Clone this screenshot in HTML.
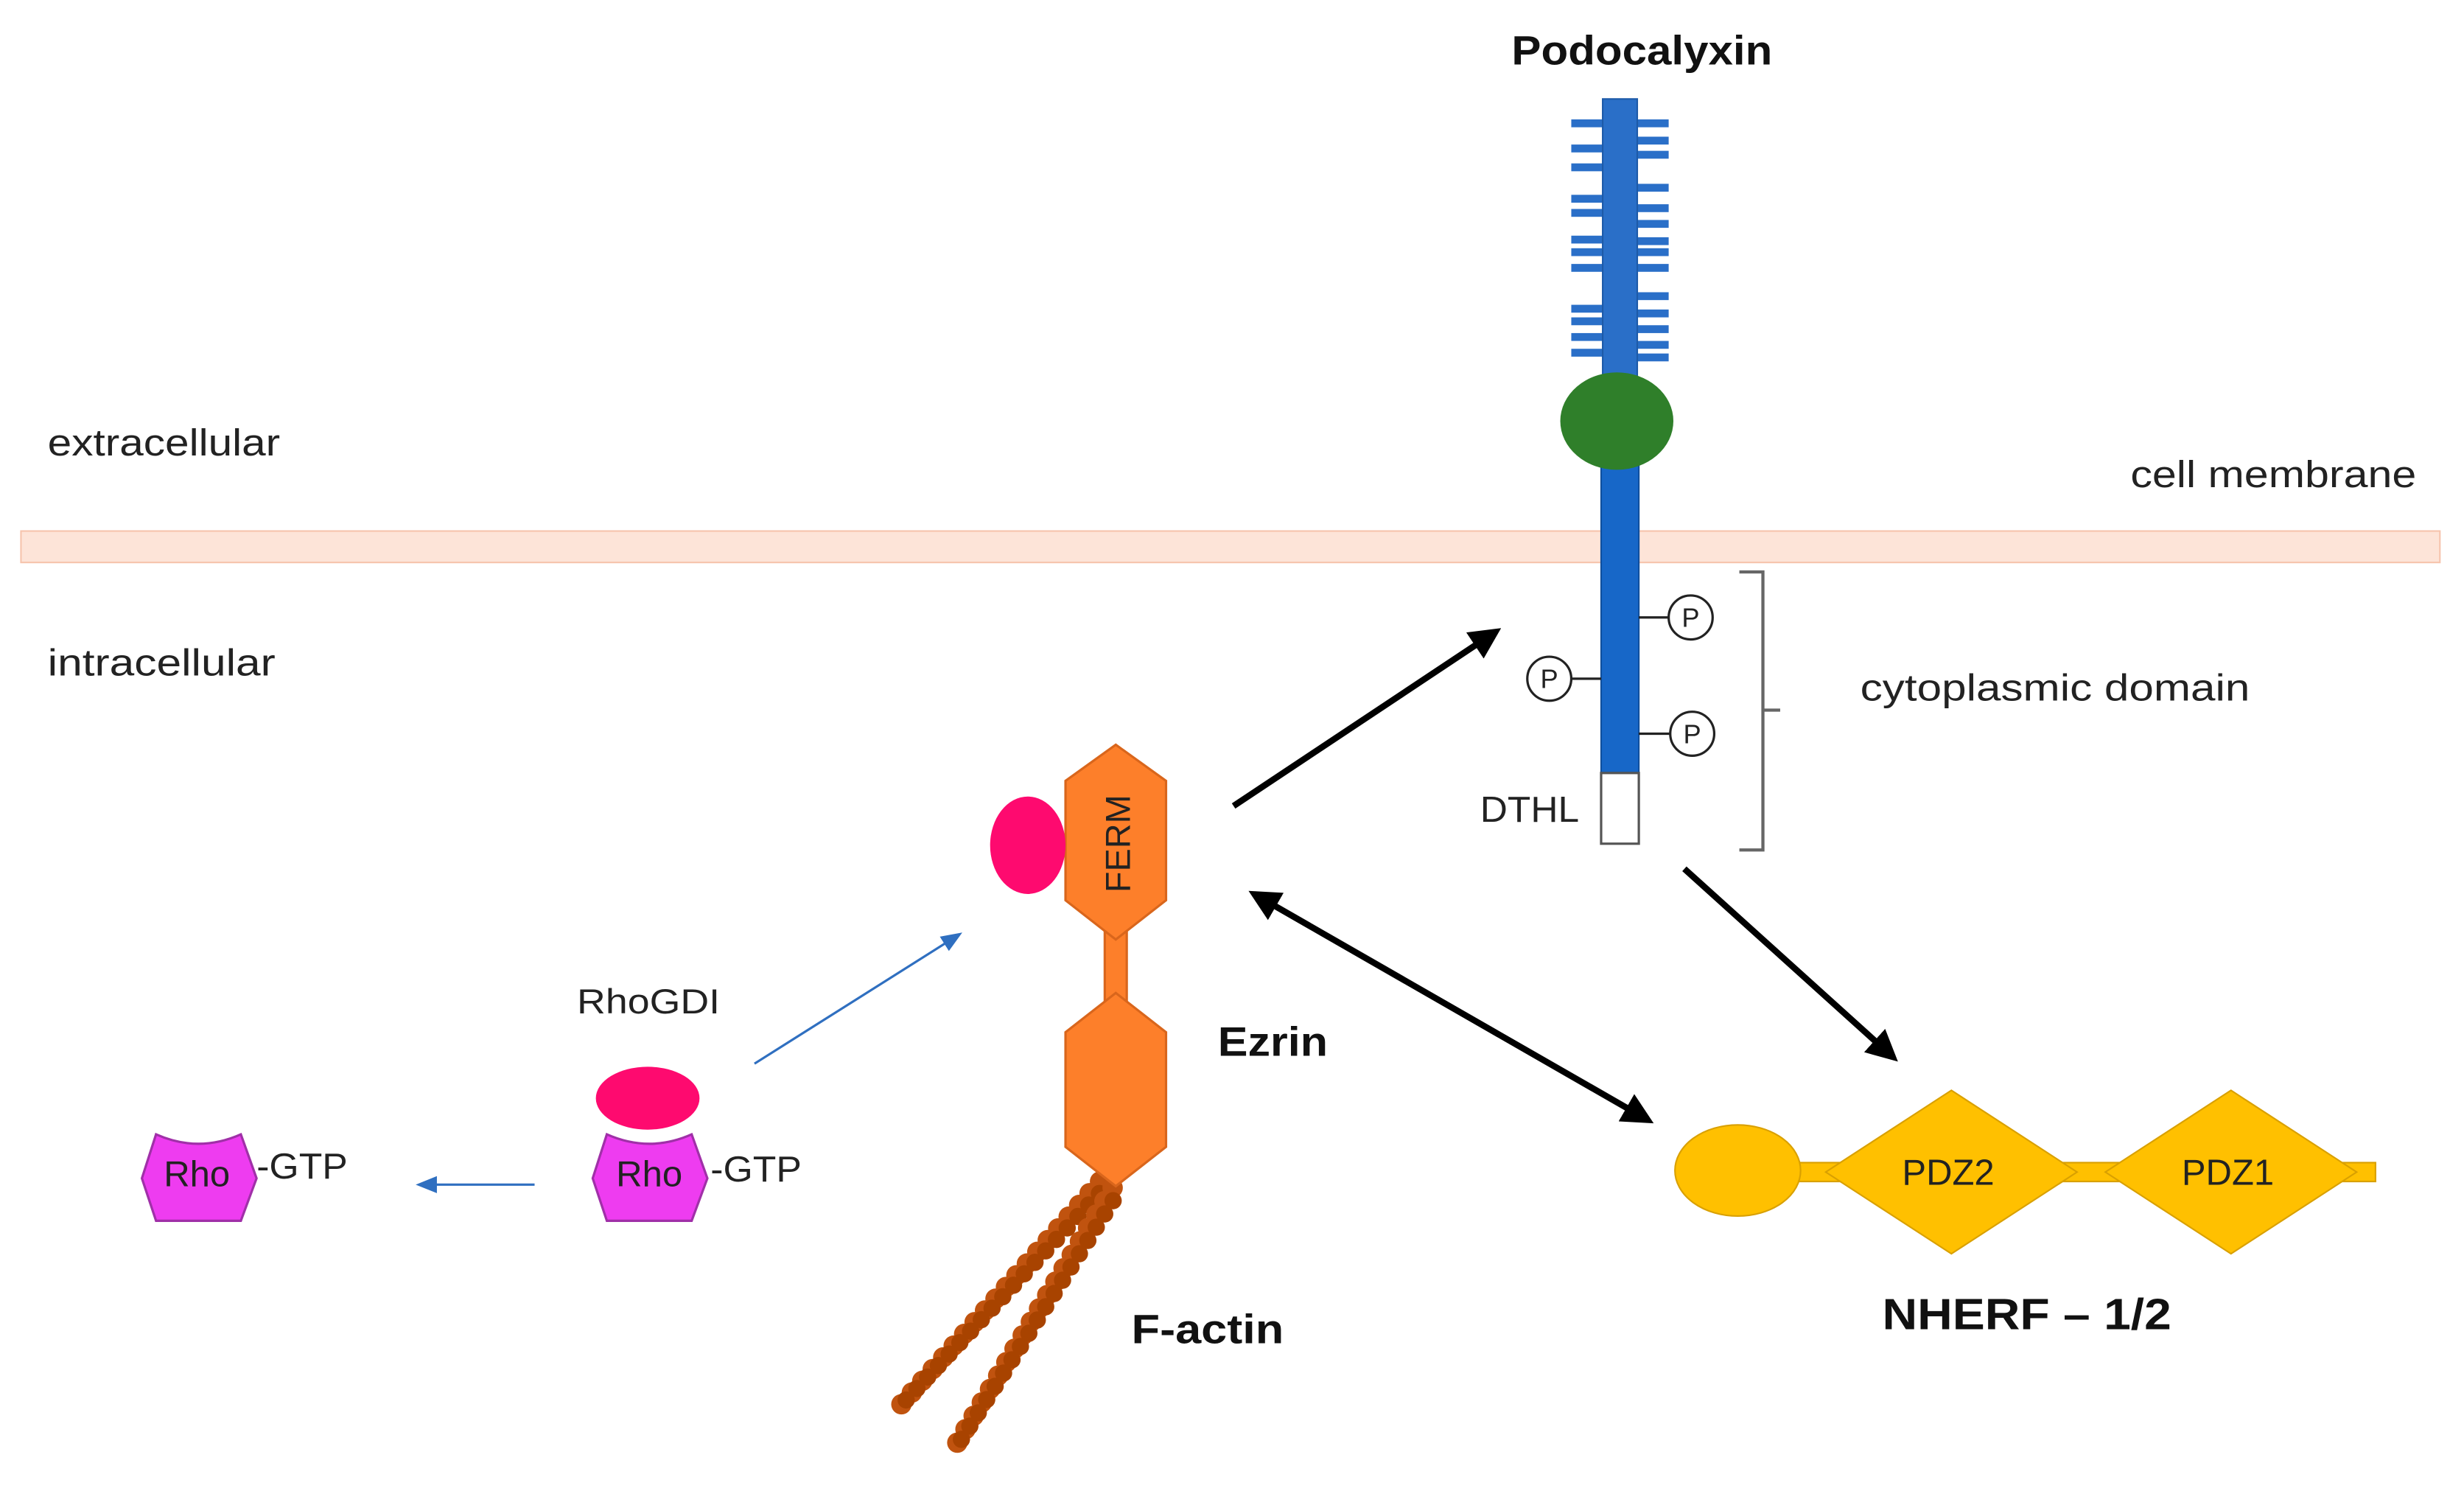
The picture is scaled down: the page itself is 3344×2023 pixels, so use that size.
<!DOCTYPE html>
<html><head><meta charset="utf-8"><style>
html,body{margin:0;padding:0;background:#fff;}
svg{display:block;}
text{font-family:"Liberation Sans",sans-serif;}
</style></head><body>
<svg width="3344" height="2023" viewBox="0 0 1568 949" xmlns="http://www.w3.org/2000/svg">
<defs>
<marker id="ab" viewBox="0 0 10 10" refX="8" refY="5" markerWidth="5" markerHeight="5" orient="auto-start-reverse"><path d="M0,0 L10,5 L0,10 z" fill="#000"/></marker>
<marker id="bb" viewBox="0 0 10 10" refX="8" refY="5" markerWidth="9" markerHeight="9" orient="auto"><path d="M0,1 L10,5 L0,9 z" fill="#2f6fc0"/></marker>
</defs>
<rect width="1568" height="949" fill="#fff"/>
<rect x="13" y="338" width="1540" height="20" fill="#fde4d8" stroke="#f6c4ad" stroke-width="1"/>
<text x="30" y="290" font-size="24" fill="#222" textLength="148" lengthAdjust="spacingAndGlyphs">extracellular</text>
<text x="30" y="430" font-size="24" fill="#222" textLength="145" lengthAdjust="spacingAndGlyphs">intracellular</text>
<text x="1356" y="310" font-size="24" fill="#222" textLength="182" lengthAdjust="spacingAndGlyphs">cell membrane</text>
<text x="1184" y="446" font-size="24" fill="#222" textLength="248" lengthAdjust="spacingAndGlyphs">cytoplasmic domain</text>
<text x="962" y="41" font-size="26" font-weight="bold" fill="#111" textLength="166" lengthAdjust="spacingAndGlyphs">Podocalyxin</text>
<g fill="#2a6fc8">
<rect x="1000" y="76" width="20" height="5"/><rect x="1000" y="92" width="20" height="5"/><rect x="1000" y="104" width="20" height="5"/>
<rect x="1000" y="124" width="20" height="5"/><rect x="1000" y="133" width="20" height="5"/><rect x="1000" y="150" width="20" height="5"/><rect x="1000" y="158" width="20" height="5"/><rect x="1000" y="168" width="20" height="5"/>
<rect x="1000" y="194" width="20" height="5"/><rect x="1000" y="202" width="20" height="5"/><rect x="1000" y="212" width="20" height="5"/><rect x="1000" y="222" width="20" height="5"/>
<rect x="1042" y="76" width="20" height="5"/><rect x="1042" y="87" width="20" height="5"/><rect x="1042" y="96" width="20" height="5"/>
<rect x="1042" y="117" width="20" height="5"/><rect x="1042" y="130" width="20" height="5"/><rect x="1042" y="140" width="20" height="5"/><rect x="1042" y="151" width="20" height="5"/><rect x="1042" y="158" width="20" height="5"/><rect x="1042" y="168" width="20" height="5"/>
<rect x="1042" y="186" width="20" height="5"/><rect x="1042" y="197" width="20" height="5"/><rect x="1042" y="207" width="20" height="5"/><rect x="1042" y="217" width="20" height="5"/><rect x="1042" y="225" width="20" height="5"/>
</g>
<rect x="1020" y="63" width="22" height="210" fill="#2a6fc8" stroke="#1d5aa8" stroke-width="1"/>
<rect x="1019" y="268" width="24" height="226" fill="#1767c8" stroke="#0f4f9e" stroke-width="1"/>
<ellipse cx="1029" cy="268" rx="36" ry="31" fill="#2f7f2a"/>
<rect x="1019" y="492" width="24" height="45" fill="#fff" stroke="#555" stroke-width="1.5"/>
<text x="942" y="523" font-size="23" fill="#222" textLength="63" lengthAdjust="spacingAndGlyphs">DTHL</text>
<g stroke="#222" stroke-width="1.5" fill="#fff">
<line x1="1043" y1="393" x2="1062" y2="393"/><ellipse cx="1076" cy="393" rx="14" ry="14"/>
<line x1="1000" y1="432" x2="1019" y2="432"/><ellipse cx="986" cy="432" rx="14" ry="14"/>
<line x1="1043" y1="467" x2="1063" y2="467"/><ellipse cx="1077" cy="467" rx="14" ry="14"/>
</g>
<g font-size="17" text-anchor="middle" fill="#222"><text x="1076" y="399">P</text><text x="986" y="438">P</text><text x="1077" y="473">P</text></g>
<path d="M1107,364 H1122 V452 H1133 M1122,452 V541 H1107" fill="none" stroke="#666" stroke-width="2"/>
<g stroke="#000" stroke-width="4">
<line x1="785" y1="513" x2="952" y2="402" marker-end="url(#ab)"/>
<line x1="1072" y1="553" x2="1205" y2="673" marker-end="url(#ab)"/>
<line x1="798" y1="569" x2="1049" y2="713" marker-start="url(#ab)" marker-end="url(#ab)"/>
</g>
<g stroke="#2f6fc0" stroke-width="1.5">
<line x1="480" y1="677" x2="610" y2="595" marker-end="url(#bb)"/>
<line x1="340" y1="754" x2="267" y2="754" marker-end="url(#bb)"/>
</g>
<g stroke-linecap="round" fill="none">
<line x1="700" y1="752" x2="568" y2="900" stroke="#c0530f" stroke-width="13" stroke-dasharray="0 10"/>
<line x1="703" y1="756" x2="571" y2="897" stroke="#a84300" stroke-width="11" stroke-dasharray="0 10" stroke-dashoffset="5"/>
<line x1="708" y1="756" x2="605" y2="925" stroke="#c0530f" stroke-width="13" stroke-dasharray="0 10"/>
<line x1="711" y1="760" x2="608" y2="922" stroke="#a84300" stroke-width="11" stroke-dasharray="0 10" stroke-dashoffset="5"/>
</g>
<rect x="703" y="592" width="14" height="48" fill="#fd7f2a" stroke="#d9661c" stroke-width="1.5"/>
<polygon points="710,474 742,497 742,573 710,598 678,573 678,497" fill="#fd7f2a" stroke="#d9661c" stroke-width="1.5"/>
<polygon points="710,632 742,657 742,730 710,755 678,730 678,657" fill="#fd7f2a" stroke="#d9661c" stroke-width="1.5"/>
<text transform="translate(719,537) rotate(-90)" font-size="22" text-anchor="middle" fill="#222">FERM</text>
<ellipse cx="654" cy="538" rx="24" ry="31" fill="#fe0a6f"/>
<text x="775" y="672" font-size="26" font-weight="bold" fill="#111" textLength="70" lengthAdjust="spacingAndGlyphs">Ezrin</text>
<text x="720" y="855" font-size="26" font-weight="bold" fill="#111" textLength="97" lengthAdjust="spacingAndGlyphs">F-actin</text>
<text x="367" y="645" font-size="22" fill="#222" textLength="91" lengthAdjust="spacingAndGlyphs">RhoGDI</text>
<ellipse cx="412" cy="699" rx="33" ry="20" fill="#fe0a6f"/>
<path d="M386,722 Q413,734 440,722 L450,750 L440,777 L386,777 L377,750 Z" fill="#ee3cf0" stroke="#a030a8" stroke-width="1.5"/>
<text x="413" y="755" font-size="23" text-anchor="middle" fill="#222">Rho</text>
<text x="452" y="752" font-size="23" fill="#222" textLength="58" lengthAdjust="spacingAndGlyphs">-GTP</text>
<path d="M99,722 Q126,734 153,722 L163,750 L153,777 L99,777 L90,750 Z" fill="#ee3cf0" stroke="#a030a8" stroke-width="1.5"/>
<text x="125" y="755" font-size="23" text-anchor="middle" fill="#222">Rho</text>
<text x="163" y="750" font-size="23" fill="#222" textLength="58" lengthAdjust="spacingAndGlyphs">-GTP</text>
<rect x="1140" y="740" width="372" height="12" fill="#ffc000" stroke="#d9a000" stroke-width="1"/>
<ellipse cx="1106" cy="745" rx="40" ry="29" fill="#ffc000" stroke="#d9a000" stroke-width="1"/>
<polygon points="1242,694 1322,746 1242,798 1162,746" fill="#ffc000" stroke="#d9a000" stroke-width="1"/>
<polygon points="1420,694 1500,746 1420,798 1340,746" fill="#ffc000" stroke="#d9a000" stroke-width="1"/>
<text x="1240" y="754" font-size="23" text-anchor="middle" fill="#222">PDZ2</text>
<text x="1418" y="754" font-size="23" text-anchor="middle" fill="#222">PDZ1</text>
<text x="1198" y="846" font-size="28" font-weight="bold" fill="#111" textLength="184" lengthAdjust="spacingAndGlyphs">NHERF – 1/2</text>
</svg>
</body></html>
